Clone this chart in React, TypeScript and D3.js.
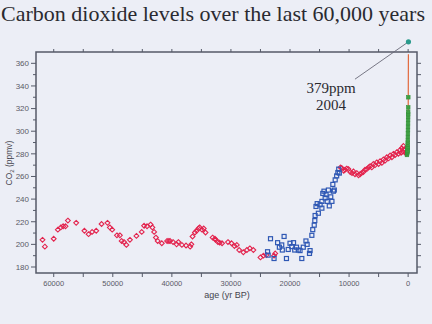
import React from "react";
import * as d3 from "d3";

const title = "Carbon dioxide levels over the last 60,000 years";
const xTickValues = [60000, 50000, 40000, 30000, 20000, 10000, 0];
const yTickValues = [180, 200, 220, 240, 260, 280, 300, 320, 340, 360];

const glacialRed: [number, number][] = [
  [61900, 204], [61500, 198], [60000, 205], [59300, 213], [58800, 215], [58400, 216], [58000, 216],
  [57600, 221], [56200, 219], [54800, 212], [54100, 209], [53500, 211], [52800, 212], [51900, 218],
  [50900, 219], [50500, 215], [50100, 213], [49300, 208], [48800, 208], [48500, 203], [48100, 202],
  [47700, 199.5], [47100, 204], [46000, 207.5], [45100, 211], [44700, 216.5], [44200, 216], [43600, 217.5],
  [43300, 215], [43000, 211], [42700, 206], [42400, 203], [41700, 201], [40800, 203], [40500, 203],
  [40300, 203], [39800, 202], [39200, 200], [38900, 202], [38300, 199.5], [37600, 199], [36900, 198],
  [36700, 200], [36500, 207], [36100, 210.5], [35800, 212], [35500, 214], [35300, 215], [34900, 213],
  [34600, 214], [34300, 210.5], [33100, 206], [32700, 205], [32600, 204], [32200, 202], [31900, 201.5],
  [31500, 201], [30500, 202], [29900, 201], [29400, 198.5], [29000, 199.5], [28600, 195], [27900, 193],
  [27300, 195], [26800, 196.5], [26200, 195], [25000, 188.5], [24500, 190], [24000, 190.5], [22700, 190],
  [22500, 192],
];

const deglacialBlue: [number, number][] = [
  [23300, 205], [23800, 193.5], [23700, 190.5], [22700, 187.5], [22100, 201.5], [21800, 197.5],
  [21400, 199.5], [21300, 195], [21000, 207], [20600, 187.5], [20300, 195.5], [20000, 201], [19700, 198],
  [19400, 201.5], [19200, 195], [18900, 197.5], [18600, 195], [18300, 194.5], [18000, 187.5], [17750, 197.5],
  [17300, 203], [17100, 200], [16700, 192], [16600, 194.5], [16300, 208], [16150, 213], [15900, 217],
  [15800, 221], [15750, 225.5], [15600, 233.5], [15400, 236], [15200, 227.5], [14900, 235], [14600, 238],
  [14600, 232], [14450, 245], [14250, 247], [14050, 241], [13900, 244], [13700, 238], [13500, 248],
  [13350, 234], [13100, 242], [12900, 238], [12750, 253], [12650, 247], [12500, 248], [12350, 257],
  [12100, 260.5], [11900, 263.5], [11750, 266.5], [11650, 263],
];

const holoceneRed: [number, number][] = [
  [11450, 268], [11240, 267.5], [10900, 265], [10680, 266], [10400, 267], [10120, 266.5], [9800, 264],
  [9500, 263], [9270, 264.5], [9000, 262], [8700, 263], [8400, 261], [8140, 262], [7900, 263], [7580, 264],
  [7300, 266], [7000, 266.5], [6700, 268], [6440, 269], [6150, 268], [5880, 271], [5600, 270], [5310, 272.5],
  [5000, 271], [4750, 273.5], [4450, 272], [4190, 275], [3900, 274], [3610, 277], [3300, 276], [3050, 278.5],
  [2750, 277], [2490, 280], [2200, 279], [1920, 281.5], [1650, 280], [1360, 283.5], [1200, 281], [1070, 285],
  [900, 282], [800, 287], [650, 284], [510, 283.5], [400, 281], [340, 280],
];

const lawDomeGreen: [number, number][] = [
  [200, 279], [170, 280], [150, 281], [130, 282], [110, 283], [95, 285], [80, 286], [70, 288], [60, 290],
  [50, 292], [42, 295], [35, 298], [28, 301], [22, 304], [16, 307], [10, 310], [5, 313], [0, 315], [-5, 317],
  [-15, 321], [-25, 330],
];

const maunaLoa: [number, number][] = [
  [150, 280], [60, 290], [10, 310], [-8, 316], [-20, 330], [-30, 345], [-40, 360], [-46, 368],
];

const latest: [number, number] = [-54, 379];
const latestLabel = ["379ppm", "2004"];
const labelAnchor: [number, number] = [9000, 346];

const W = 432;
const H = 324;
const left = 36, right = 417, top = 52, bottom = 273;

export default function App() {
  const x = d3.scaleLinear().domain([63000, -1500]).range([left, right]);
  const y = d3.scaleLinear().domain([174.7, 370]).range([bottom, top]);
  const axisColor = "#555a68";
  const labelColor = "#5a5a66";
  const sans = "Liberation Sans, Arial, sans-serif";

  const xMinor = d3.range(0, 60001, 5000);
  const yMinorLeft = d3.range(180, 361, 10);
  const yRight = d3.range(180, 361, 10);

  const diamond = (cx: number, cy: number, r: number) =>
    `M${cx},${cy - r}L${cx + r},${cy}L${cx},${cy + r}L${cx - r},${cy}Z`;

  const line = d3.line<[number, number]>().x((d) => x(d[0])).y((d) => y(d[1]));

  const lx = x(labelAnchor[0]);
  const ly = y(labelAnchor[1]);

  return (
    <div style={{ position: "fixed", left: 0, top: 0 }}>
      <svg width={W} height={H} style={{ display: "block" }}>
        <rect x={0} y={0} width={W} height={H} fill="#eceef6" />
        <text x={1} y={21} fontFamily="Liberation Serif, Times New Roman, serif" fontSize={22} fill="#2a2a30">
          {title}
        </text>

        {/* ticks bottom/top */}
        {xMinor.map((v) => (
          <g key={"xt" + v}>
            <line x1={x(v)} x2={x(v)} y1={bottom} y2={bottom + 4} stroke={axisColor} strokeWidth={1} />
            <line x1={x(v)} x2={x(v)} y1={top} y2={top - 3} stroke={axisColor} strokeWidth={1} />
          </g>
        ))}
        {xTickValues.map((v) => (
          <text key={"xl" + v} x={x(v)} y={286} textAnchor="middle" fontFamily={sans} fontSize={7.5} fill={labelColor}>
            {v}
          </text>
        ))}
        {yMinorLeft.map((v) => (
          <line key={"yl" + v} x1={left} x2={left - (v % 20 === 0 ? 5 : 3)} y1={y(v)} y2={y(v)} stroke={axisColor} strokeWidth={1} />
        ))}
        {yRight.map((v) => (
          <line key={"yr" + v} x1={right} x2={right + 4} y1={y(v)} y2={y(v)} stroke={axisColor} strokeWidth={1} />
        ))}
        {yTickValues.map((v) => (
          <text key={"ylab" + v} x={29} y={y(v) + 2.8} textAnchor="end" fontFamily={sans} fontSize={8} fill={labelColor}>
            {v}
          </text>
        ))}
        <text x={227} y={298} textAnchor="middle" fontFamily={sans} fontSize={9} fill="#44444e">
          age (yr BP)
        </text>
        <text transform={`translate(12,163) rotate(-90)`} textAnchor="middle" fontFamily={sans} fontSize={8.5} fill="#44444e">
          CO<tspan fontSize={6} dy={2}>2</tspan><tspan dy={-2}> (ppmv)</tspan>
        </text>

        {/* data */}
        {glacialRed.concat(holoceneRed).map((d, i) => (
          <path key={"r" + i} d={diamond(x(d[0]), y(d[1]), 2.4)} fill="none" stroke="#e3244e" strokeWidth={1.1} />
        ))}
        {deglacialBlue.map((d, i) => (
          <rect key={"b" + i} x={x(d[0]) - 2} y={y(d[1]) - 2} width={4} height={4} fill="none" stroke="#2f58b4" strokeWidth={1.2} />
        ))}
        <path d={line(maunaLoa) || ""} fill="none" stroke="#e2683c" strokeWidth={1.2} />
        {lawDomeGreen.map((d, i) => (
          <rect key={"g" + i} x={x(d[0]) - 1.8} y={y(d[1]) - 1.8} width={3.6} height={3.6} fill="#3fa244" stroke="#35903a" strokeWidth={0.6} />
        ))}

        {/* axes box */}
        <rect x={left} y={top} width={right - left} height={bottom - top} fill="none" stroke={axisColor} strokeWidth={1.5} />

        {/* annotation */}
        <line x1={x(latest[0])} y1={y(latest[1])} x2={lx} y2={ly} stroke="#6a6a78" strokeWidth={0.9} />
        <circle cx={x(latest[0])} cy={y(latest[1])} r={2.6} fill="#2a9a8c" />
        <text x={331} y={93} textAnchor="middle" fontFamily="Liberation Serif, Times New Roman, serif" fontSize={15} fill="#2a2a30">
          {latestLabel[0]}
        </text>
        <text x={331} y={110} textAnchor="middle" fontFamily="Liberation Serif, Times New Roman, serif" fontSize={15} fill="#2a2a30">
          {latestLabel[1]}
        </text>
      </svg>
    </div>
  );
}
